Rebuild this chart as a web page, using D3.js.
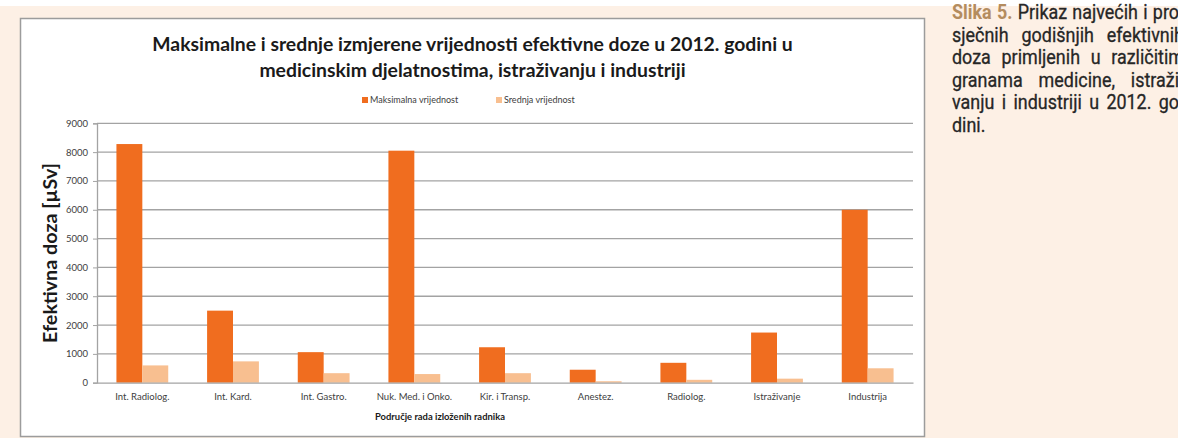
<!DOCTYPE html>
<html>
<head>
<meta charset="utf-8">
<script src="https://cdn.jsdelivr.net/npm/d3@7"></script>
<style>
  html, body { margin: 0; padding: 0; background: #fdf0e5; }
  svg { display: block; }
</style>
</head>
<body>
<svg id="chart" width="1178" height="438"></svg>
<script>
// ---------- data ----------
const categories = ["Int. Radiolog.", "Int. Kard.", "Int. Gastro.", "Nuk. Med. i Onko.", "Kir. i Transp.", "Anestez.", "Radiolog.", "Istraživanje", "Industrija"];
const seriesNames = ["Maksimalna vrijednost", "Srednja vrijednost"];
const maxValues = [8280, 2500, 1060, 8050, 1230, 450, 690, 1740, 6000];
const meanValues = [600, 740, 330, 300, 330, 50, 100, 140, 500];
const yTicks = [0, 1000, 2000, 3000, 4000, 5000, 6000, 7000, 8000, 9000];
const titleLines = ["Maksimalne i srednje izmjerene vrijednosti efektivne doze u 2012. godini u",
                    "medicinskim djelatnostima, istraživanju i industriji"];
const yTitle = "Efektivna doza [µSv]";
const xTitle = "Područje rada izloženih radnika";
const captionLines = [
  ["Slika 5.", "Prikaz najvećih i pro-"],
  ["", "sječnih godišnjih efektivnih"],
  ["", "doza primljenih u različitim"],
  ["", "granama medicine, istraži-"],
  ["", "vanju i industriji u 2012. go-"],
  ["", "dini."]
];

// ---------- styles ----------
const colors = ["#f06d1f", "#f8bf90"];
const font = "Lato, 'Open Sans', sans-serif";
const svg = d3.select("#chart");

// page background
svg.append("rect").attr("x", 0).attr("y", 0).attr("width", 1178).attr("height", 438).attr("fill", "#fdf0e5");
svg.append("rect").attr("x", 0).attr("y", 0).attr("width", 1178).attr("height", 6).attr("fill", "#ffffff");

// chart frame
const frame = {x: 20.5, y: 18.5, w: 904, h: 418};
svg.append("rect").attr("x", frame.x).attr("y", frame.y).attr("width", frame.w).attr("height", frame.h)
  .attr("fill", "#ffffff").attr("stroke", "#9c9c9c").attr("stroke-width", 1.5);

const plot = {left: 97, right: 913, top: 123.3, bottom: 382.7};

const x0 = d3.scaleBand().domain(categories).range([plot.left, plot.right]).paddingInner(0).paddingOuter(0);
const x1 = d3.scaleBand().domain(seriesNames).range([0, x0.bandwidth()]).paddingInner(0).paddingOuter(0.75);
const y = d3.scaleLinear().domain([0, 9000]).range([plot.bottom, plot.top]);

function fitText(sel, target) {
  const fs = parseFloat(sel.attr("font-size"));
  const len = sel.node().getComputedTextLength();
  const nfs = fs * target / len;
  sel.attr("font-size", nfs.toFixed(2));
  return nfs;
}

// gridlines
svg.append("g").selectAll("line").data(yTicks.filter(d => d > 0)).join("line")
  .attr("x1", plot.left).attr("x2", plot.right)
  .attr("y1", d => y(d)).attr("y2", d => y(d))
  .attr("stroke", "#a3a3a3").attr("stroke-width", 1.3);

// y axis
const yAxis = svg.append("g").attr("transform", `translate(${plot.left},0)`)
  .call(d3.axisLeft(y).tickValues(yTicks).tickSize(4).tickPadding(5).tickFormat(d3.format("d")));
yAxis.select(".domain").attr("stroke", "#a3a3a3").attr("stroke-width", 1.3);
yAxis.selectAll(".tick line").attr("stroke", "#a3a3a3");
yAxis.selectAll(".tick text").attr("font-family", font).attr("font-size", 9.5).attr("fill", "#404040");

// bars
const groups = svg.append("g").selectAll("g").data(categories).join("g")
  .attr("transform", d => `translate(${x0(d)},0)`);
groups.selectAll("rect").data((d, i) => [
    {s: seriesNames[0], v: maxValues[i]},
    {s: seriesNames[1], v: meanValues[i]}
  ]).join("rect")
  .attr("x", d => x1(d.s))
  .attr("width", x1.bandwidth())
  .attr("y", d => y(d.v))
  .attr("height", d => y(0) - y(d.v))
  .attr("fill", (d, j) => colors[j]);

// x axis
const xAxis = svg.append("g").attr("transform", `translate(0,${plot.bottom})`)
  .call(d3.axisBottom(x0).tickSize(0).tickPadding(11));
xAxis.select(".domain").attr("stroke", "#a3a3a3").attr("stroke-width", 1.3);
xAxis.selectAll(".tick text").attr("font-family", font).attr("font-size", 9.5).attr("fill", "#404040");

// title
let titleSize = 18;
titleLines.forEach((t, i) => {
  const tt = svg.append("text").attr("x", 472.5).attr("y", 51 + i * 26)
    .attr("text-anchor", "middle").attr("font-family", font).attr("font-weight", "bold")
    .attr("font-size", titleSize).attr("fill", "#1a1a1a").text(t);
  if (i === 0) titleSize = fitText(tt, 641);
});

// legend
const legend = svg.append("g");
const legItems = [{x: 362, name: seriesNames[0]}, {x: 496, name: seriesNames[1]}];
legItems.forEach((it, i) => {
  legend.append("rect").attr("x", it.x).attr("y", 97).attr("width", 6).attr("height", 6).attr("fill", colors[i]);
  legend.append("text").attr("x", it.x + 8).attr("y", 103.2).attr("font-family", font)
    .attr("font-size", 9).attr("fill", "#404040").text(it.name);
});

// axis titles
const yt = svg.append("text").attr("transform", "translate(57,253) rotate(-90)")
  .attr("text-anchor", "middle").attr("font-family", font).attr("font-weight", "bold")
  .attr("font-size", 20).attr("fill", "#1a1a1a").text(yTitle);
fitText(yt, 180);

const xt = svg.append("text").attr("x", 440).attr("y", 420).attr("text-anchor", "middle")
  .attr("font-family", font).attr("font-weight", "bold").attr("font-size", 9.5).attr("fill", "#1a1a1a").text(xTitle);
fitText(xt, 130);

// caption (justified, condensed)
const capX = 952, capR = 1184, sx = 0.92, capSize = 19.5, capFont = "Roboto, 'Noto Sans', sans-serif";
captionLines.forEach((ln, i) => {
  const g = svg.append("g").attr("transform", `translate(${capX},${19 + i * 22.6}) scale(${sx},1)`);
  const words = [];
  if (ln[0]) ln[0].split(" ").forEach(w => words.push({w, bold: true}));
  ln[1].split(" ").forEach(w => words.push({w, bold: false}));
  const widths = words.map(o => {
    const t = g.append("text").attr("font-family", capFont).attr("font-size", capSize)
      .attr("font-weight", o.bold ? "bold" : "normal").text(o.w);
    const wd = t.node().getComputedTextLength(); t.remove(); return wd;
  });
  const total = d3.sum(widths);
  const avail = (capR - capX) / sx;
  const justify = i < captionLines.length - 1;
  const gap = justify ? Math.max(4.5, (avail - total) / (words.length - 1)) : 4.5;
  let cx = 0;
  words.forEach((o, k) => {
    g.append("text").attr("x", cx).attr("y", 0).attr("font-family", capFont).attr("font-size", capSize)
      .attr("font-weight", o.bold ? "bold" : "normal")
      .attr("fill", o.bold ? "#b48c5e" : "#262626")
      .attr("stroke", o.bold ? "none" : "#262626").attr("stroke-width", 0.3)
      .text(o.w);
    cx += widths[k] + gap;
  });
});
</script>
</body>
</html>
